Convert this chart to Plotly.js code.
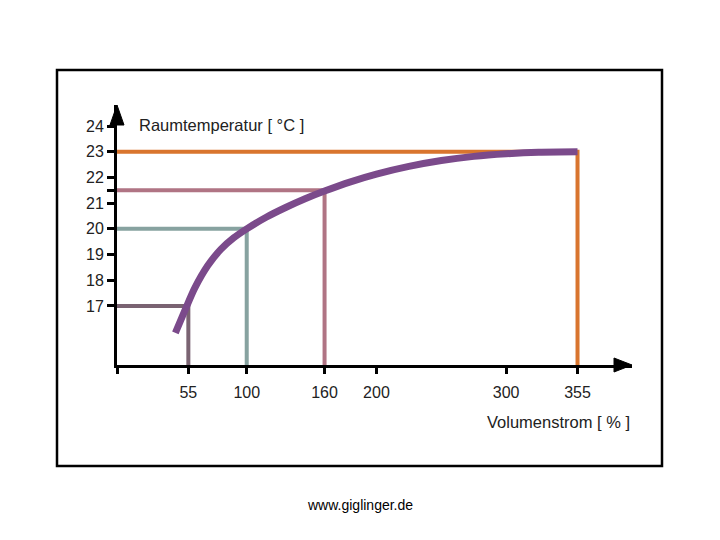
<!DOCTYPE html>
<html><head><meta charset="utf-8">
<script src="https://cdn.plot.ly/plotly-3.0.1.min.js"></script>
<style>html,body{margin:0;padding:0;background:#fff}#c{width:720px;height:540px}</style>
</head><body><div id="c"></div>
<script>
// Curve: Raumtemperatur vs Volumenstrom
const flowPct = [45, 53, 60, 70, 80, 90, 100, 115, 130, 145, 160, 180, 200, 225, 250, 275, 300, 325, 355];
const roomTemp = [15.95, 16.9, 17.7, 18.57, 19.2, 19.65, 20.0, 20.45, 20.83, 21.17, 21.47, 21.83, 22.13, 22.43, 22.66, 22.82, 22.92, 22.98, 23.0];
// Reference markers
const refFlow = [55, 100, 160, 355];
const refTemp = [17, 20, 21.5, 23];
const refColors = ['#7a6372', '#87a2a0', '#b07484', '#d9752e'];
// Ticks
const xTickVals = [0, 55, 100, 160, 200, 300, 355];
const xTickText = ['', '55', '100', '160', '200', '300', '355'];
const yTickVals = [17, 18, 19, 20, 21, 21.5, 22, 23, 24];
const yTickText = ['17', '18', '19', '20', '21', '', '22', '23', '24'];

const xMin = 0, xMax = 397, yMin = 14.7, yMax = 24.82;
const font = 'Liberation Sans, Arial, sans-serif';

const traces = [];
refFlow.forEach((fx, i) => {
  traces.push({
    x: [xMin, fx, fx], y: [refTemp[i], refTemp[i], yMin],
    mode: 'lines', line: {color: refColors[i], width: 4}, hoverinfo: 'skip', showlegend: false
  });
});
traces.push({
  x: flowPct, y: roomTemp, mode: 'lines',
  line: {color: '#7b4a8b', width: 7, shape: 'spline', smoothing: 0.8}, showlegend: false
});

const W = 515, H = 260;
const px = v => v / W, py = v => v / H;
const layout = {
  width: 720, height: 540,
  margin: {l: 117, r: 88, t: 105, b: 175},
  paper_bgcolor: '#fff', plot_bgcolor: '#fff',
  showlegend: false,
  xaxis: {range: [xMin, xMax], showgrid: false, zeroline: false, showline: true, linecolor: '#000', linewidth: 3,
    tickmode: 'array', tickvals: xTickVals, ticktext: xTickText, ticks: 'outside', ticklen: 6, tickwidth: 3, tickcolor: '#000',
    ticklabelstandoff: 5, tickfont: {family: font, size: 16, color: '#222'}},
  yaxis: {range: [yMin, yMax], showgrid: false, zeroline: false, showline: true, linecolor: '#000', linewidth: 3,
    tickmode: 'array', tickvals: yTickVals, ticktext: yTickText, ticks: 'outside', ticklen: 7, tickwidth: 3, tickcolor: '#000',
    ticklabelstandoff: 0, tickfont: {family: font, size: 16, color: '#222'}},
  shapes: [
    {type: 'rect', xref: 'paper', yref: 'paper', x0: px(57 - 117), x1: px(662 - 117), y0: py(365 - 466), y1: py(365 - 70),
      line: {color: '#000', width: 2.5}, fillcolor: 'rgba(0,0,0,0)', layer: 'below'},
    {type: 'path', xref: 'paper', yref: 'paper', path: `M 0 1 L ${px(-7)} ${py(240)} L ${px(7)} ${py(240)} Z`,
      fillcolor: '#000', line: {color: '#000', width: 1}},
    {type: 'path', xref: 'paper', yref: 'paper', path: `M 1 0 L ${px(497)} ${py(7)} L ${px(497)} ${py(-7)} Z`,
      fillcolor: '#000', line: {color: '#000', width: 1}}
  ],
  annotations: [
    {text: 'Raumtemperatur [ °C ]', xref: 'paper', yref: 'paper', x: px(137 - 117), y: py(365 - 125),
      xanchor: 'left', yanchor: 'middle', showarrow: false, font: {family: font, size: 16.5, color: '#222'}},
    {text: 'Volumenstrom [ % ]', xref: 'paper', yref: 'paper', x: 1, y: py(365 - 422),
      xanchor: 'right', yanchor: 'middle', showarrow: false, font: {family: font, size: 16.5, color: '#222'}},
    {text: 'www.giglinger.de', xref: 'paper', yref: 'paper', x: px(360 - 117), y: py(365 - 505),
      xanchor: 'center', yanchor: 'middle', showarrow: false, font: {family: font, size: 14, color: '#000'}}
  ]
};
Plotly.newPlot('c', traces, layout, {displayModeBar: false, staticPlot: true});
</script>
</body></html>
